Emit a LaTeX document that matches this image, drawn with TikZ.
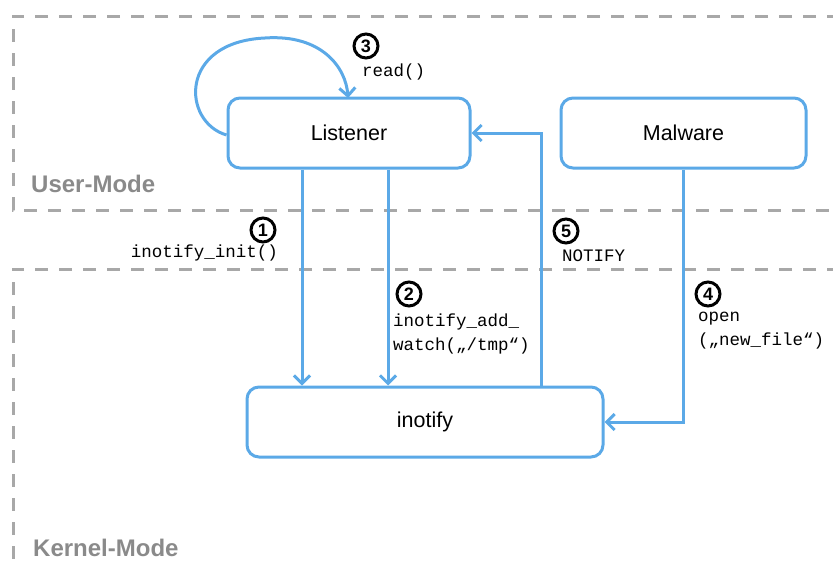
\documentclass[tikz,border=0pt]{standalone}
\usepackage{fontspec}
\setmainfont{Liberation Sans}
\setmonofont{Liberation Mono}
\usetikzlibrary{arrows.meta,calc}
\definecolor{flowblue}{HTML}{5BA9E7}
\definecolor{zonegray}{HTML}{A8A8A8}
\definecolor{zonetext}{HTML}{8A8A8A}
\tikzset{
  zone/.style={draw=zonegray, line width=3pt, dash pattern=on 13pt off 11pt},
  zonelabel/.style={text=zonetext, font=\fontsize{24}{28}\selectfont\bfseries, anchor=west, inner sep=0pt},
  block/.style={draw=flowblue, line width=3pt, rounded corners=12pt, fill=white,
    minimum height=70pt, font=\fontsize{21.5}{24}\selectfont, inner sep=0pt},
  flow/.style={draw=flowblue, line width=3pt, -{Straight Barb[length=8pt,width=16pt,line width=3pt]}},
  badge/.style={circle, draw=black, line width=3pt, minimum size=24pt, inner sep=0pt,
    font=\fontsize{18}{20}\selectfont\bfseries},
  call/.style={font=\fontsize{17.5}{24}\selectfont\ttfamily, inner sep=0pt, align=left},
}
\begin{document}
\begin{tikzpicture}[x=1pt,y=-1pt]
\useasboundingbox (0,0) rectangle (833,570);

% privilege zones
\draw[zone] (840,16) -- (13,16) -- (13,210) -- (840,210);
\draw[zone] (840,269) -- (13,269) -- (13,580);
\node[zonelabel] (um) at (31,184) {User-Mode};
\node[zonelabel] (km) at (33,548) {Kernel-Mode};

% components
\node[block, minimum width=242pt] (listener) at (349,133) {Listener};
\node[block, minimum width=245pt] (malware) at (683.5,133) {Malware};
\node[block, minimum width=356pt] (inotify) at (425,422) {inotify};

% connector columns
\coordinate (c1) at (302,300);
\coordinate (c2) at (388,300);
\coordinate (c5) at (541,300);

% calls
\draw[flow] (listener.south -| c1) -- (inotify.north -| c1);
\draw[flow] (listener.south -| c2) -- (inotify.north -| c2);
\draw[flow] (inotify.north -| c5) |- (listener.east);
\draw[flow] (malware.south) |- (inotify.east);
\draw[flow] (listener.west) ++(0,2) .. controls (182,122) and (178,42) .. (265,38)
  .. controls (322,34) and (346,68) .. (348,98);

% step badges and call labels
\node[badge] (b3) at (366,46) {3};
\node[call, anchor=west] (t3) at (362,72) {read()};
\node[badge] (b1) at (263,230) {1};
\node[call, anchor=east] (t1) at (278,253) {inotify\_init()};
\node[badge] (b2) at (409,294) {2};
\node[call, anchor=north west] (t2) at (393,314) {inotify\_add\_\\watch(„/tmp“)};
\node[badge] (b5) at (566,231) {5};
\node[call, anchor=west] (t5) at (562,256) {NOTIFY};
\node[badge] (b4) at (708,294) {4};
\node[call, anchor=north west] (t4) at (698,312) {open\\(„new\_file“)};
\end{tikzpicture}
\end{document}
